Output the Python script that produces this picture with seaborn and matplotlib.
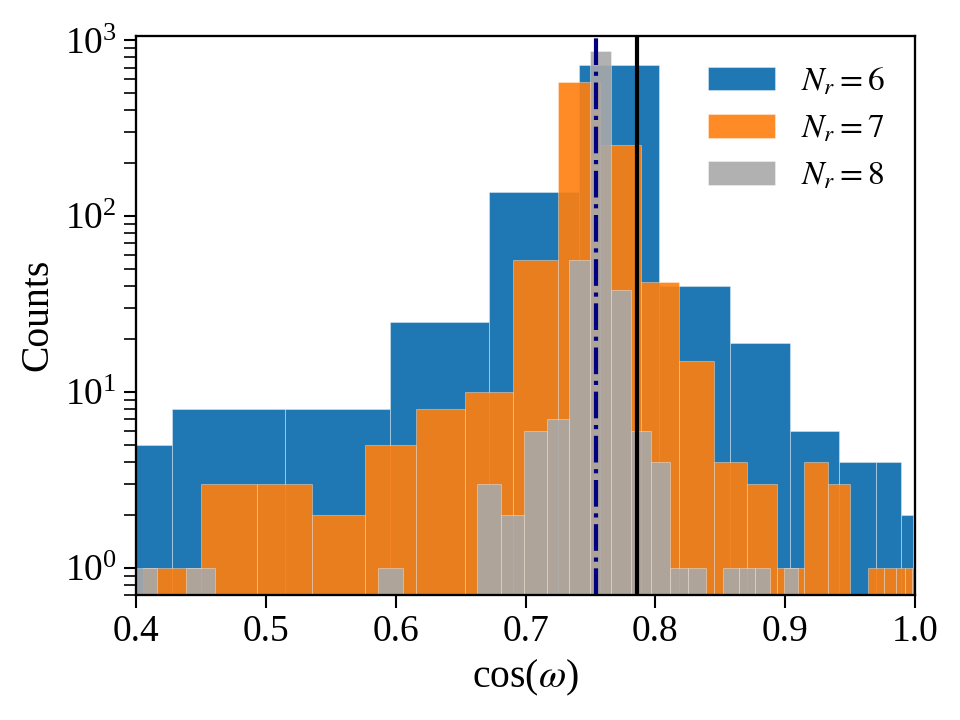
import numpy as np
import pandas as pd
import matplotlib
matplotlib.use("Agg")
import matplotlib.pyplot as plt
import matplotlib.colors as mcolors
import seaborn as sns

# ---- data (bin edges in cos(omega), counts) ----
blue_edges = [0.3371, 0.4277, 0.5142, 0.5957, 0.6715, 0.7408, 0.8031, 0.8575,
              0.9038, 0.9414, 0.9699, 0.9891, 0.9988]
blue_counts = [5, 8, 8, 25, 138, 728, 40, 19, 6, 4, 4, 2]

orange_edges = [0.4055, 0.4499, 0.4933, 0.5354, 0.5762, 0.6157, 0.6536, 0.6900,
                0.7247, 0.7576, 0.7887, 0.8180, 0.8452, 0.8704, 0.8935, 0.9145,
                0.9333, 0.9498, 0.9640, 0.9759, 0.9854, 0.9926, 0.9974, 0.9997]
orange_counts = [1, 3, 3, 2, 5, 8, 10, 56, 577, 254, 42, 15, 4, 3, 1, 4, 3, 0,
                 1, 1, 1, 1, 1]

grey_edges = [0.3936, 0.4161, 0.4384, 0.4603, 0.4821, 0.5035, 0.5247, 0.5454,
              0.5659, 0.5861, 0.6059, 0.6252, 0.6443, 0.6629, 0.6811, 0.6990,
              0.7163, 0.7334, 0.7499, 0.7659, 0.7815, 0.7966, 0.8113, 0.8254,
              0.8391, 0.8522, 0.8648, 0.8769, 0.8885, 0.8995, 0.9100]
grey_counts = [1, 0, 1, 0, 0, 0, 0, 0, 0, 1, 0, 0, 0, 3, 2, 6, 7, 56, 866, 38,
               6, 4, 1, 1, 0, 1, 1, 1, 0, 1]

labels = [r"$N_r=6$", r"$N_r=7$", r"$N_r=8$"]
xticks = [0.4, 0.5, 0.6, 0.7, 0.8, 0.9, 1.0]
line_navy = 0.754
line_black = 0.786

# ---- style ----
sns.set_theme(style="ticks")
plt.rcParams["font.family"] = ["Liberation Serif", "DejaVu Serif"]
plt.rcParams["mathtext.fontset"] = "stix"
plt.rcParams["text.color"] = "black"
plt.rcParams["axes.labelcolor"] = "black"
plt.rcParams["xtick.color"] = "black"
plt.rcParams["ytick.color"] = "black"
plt.rcParams["xtick.labelcolor"] = "black"
plt.rcParams["ytick.labelcolor"] = "black"

fig = plt.figure(figsize=(6.4, 4.8), dpi=150)
ax = fig.add_axes([0.142, 0.174, 0.811, 0.776])

series = [
    (blue_edges, blue_counts, "#1f77b4", 1.0, labels[0]),
    (orange_edges, orange_counts, "#ff7f0e", 0.9, labels[1]),
    (grey_edges, grey_counts, "darkgray", 0.9, labels[2]),
]
for edges, counts, color, alpha, lab in series:
    e = np.asarray(edges)
    df = pd.DataFrame({"x": (e[:-1] + e[1:]) / 2, "w": counts})
    n_before = len(ax.patches)
    sns.histplot(data=df, x="x", weights="w", bins=list(edges), color=color,
                 alpha=alpha, label=lab, ax=ax, stat="count")
    face = mcolors.to_rgba(color, alpha)
    for p in ax.patches[n_before:]:
        p.set_alpha(None)
        p.set_facecolor(face)
        p.set_edgecolor((1, 1, 1, 0.35))
        p.set_linewidth(0.5)

ax.axvline(line_navy, color="navy", linestyle="-.", linewidth=2)
ax.axvline(line_black, color="black", linestyle="-", linewidth=2)

ax.set_yscale("log")
ax.set_xlim(0.4, 1.0)
ax.set_ylim(0.7, 1060)
ax.set_xticks(xticks)
ax.set_xticklabels([f"{t:.1f}" for t in xticks])
ax.tick_params(axis="both", which="major", labelsize=18, direction="out",
               length=6, width=1.0, color="black", labelcolor="black")
ax.tick_params(axis="y", which="minor", direction="out", length=6, width=0.8,
               color="black")
for s in ax.spines.values():
    s.set_linewidth(1.1)
    s.set_color("black")

ax.set_xlabel(r"cos($\omega$)", fontsize=19, color="black")
ax.set_ylabel("Counts", fontsize=19, color="black")
leg = ax.legend(loc="upper right", frameon=False, fontsize=16)
for t in leg.get_texts():
    t.set_color("black")

fig.savefig("out.png", dpi=150)
